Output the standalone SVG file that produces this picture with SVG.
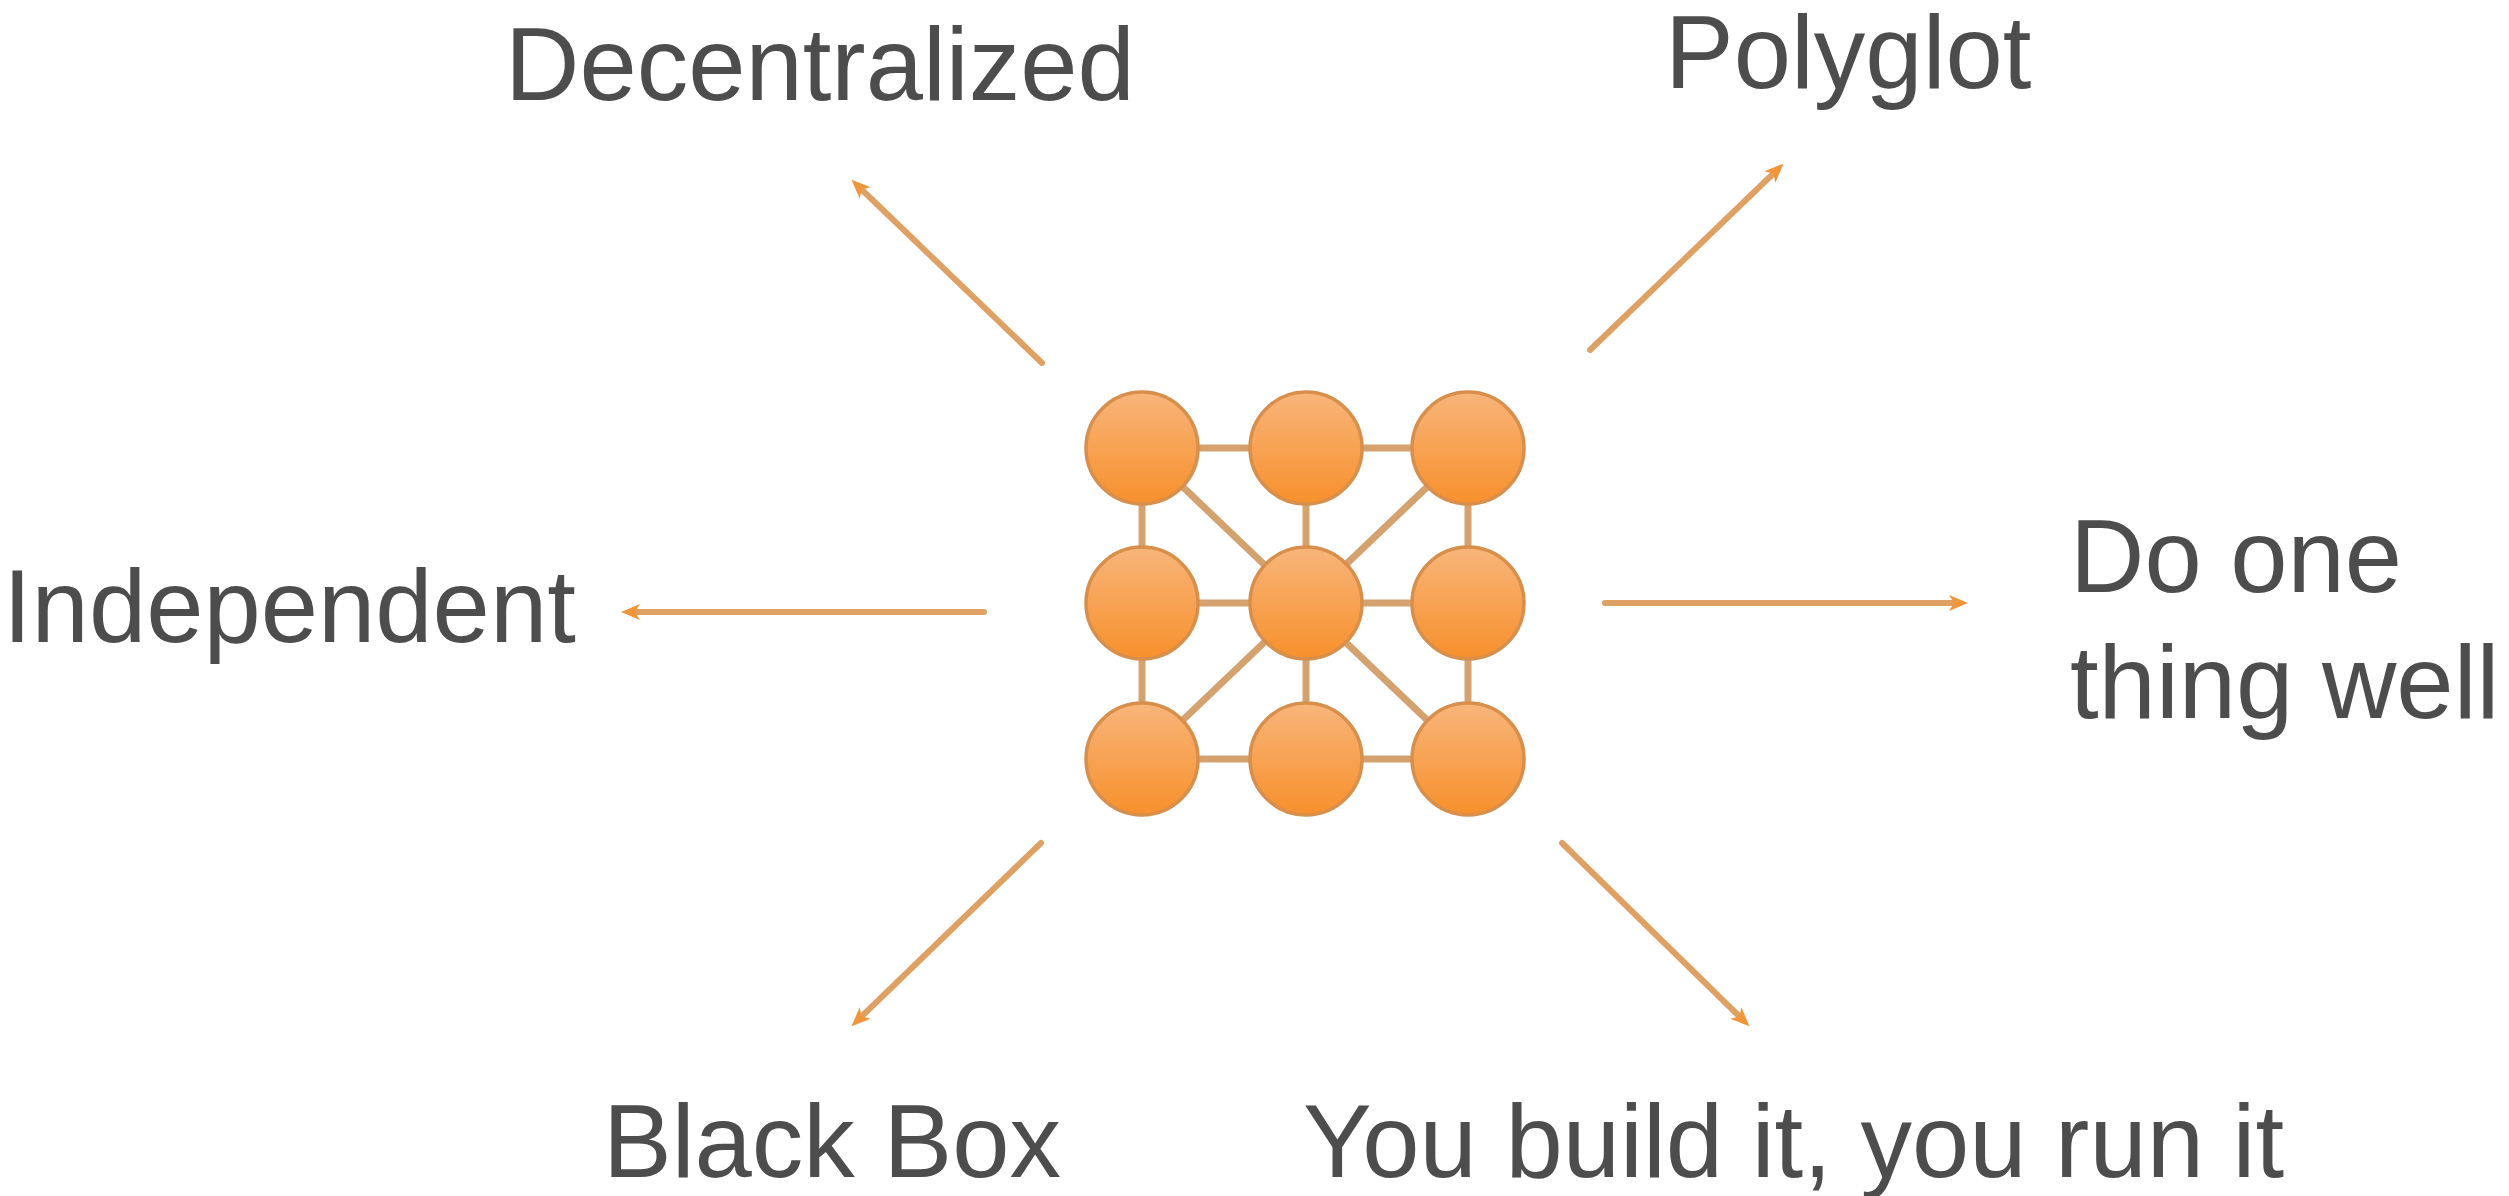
<svg xmlns="http://www.w3.org/2000/svg" width="2509" height="1196" viewBox="0 0 2509 1196">
  <defs>
    <linearGradient id="ball" x1="0" y1="0" x2="0" y2="1">
      <stop offset="0" stop-color="#F8B57A"/>
      <stop offset="1" stop-color="#F7902C"/>
    </linearGradient>
    <marker id="head" viewBox="0 0 24 24" refX="12" refY="12" markerWidth="24" markerHeight="24" markerUnits="userSpaceOnUse" orient="auto">
      <path d="M2,4 L21,12 L2,20 L7,12 Z" fill="#F0953A"/>
    </marker>
  </defs>
  <style>
    .lbl { font-family: "Liberation Sans", Arial, sans-serif; font-size: 103px; fill: #4d4d4d; }
    .arrow { stroke: #DFA063; stroke-width: 6; stroke-linecap: round; fill: none; marker-end: url(#head); }
    .link { stroke: #D4A26F; stroke-width: 7; }
    .ball { fill: url(#ball); stroke: #D98F4C; stroke-width: 3.5; }
  </style>
  <rect width="2509" height="1196" fill="#ffffff"/>

  <g id="connectors">
    <line class="arrow" x1="1042" y1="363" x2="858" y2="186"/>
    <line class="arrow" x1="1590" y1="350" x2="1777" y2="170"/>
    <line class="arrow" x1="984" y1="612" x2="630" y2="612"/>
    <line class="arrow" x1="1605" y1="603" x2="1959" y2="603"/>
    <line class="arrow" x1="1041" y1="843" x2="858" y2="1020"/>
    <line class="arrow" x1="1562" y1="843" x2="1743" y2="1020"/>
  </g>

  <g id="microservices">
    <g id="grid-links">
      <line class="link" x1="1142" y1="448" x2="1468" y2="448"/>
      <line class="link" x1="1142" y1="603" x2="1468" y2="603"/>
      <line class="link" x1="1142" y1="759" x2="1468" y2="759"/>
      <line class="link" x1="1142" y1="448" x2="1142" y2="759"/>
      <line class="link" x1="1306" y1="448" x2="1306" y2="759"/>
      <line class="link" x1="1468" y1="448" x2="1468" y2="759"/>
      <line class="link" x1="1142" y1="448" x2="1468" y2="759"/>
      <line class="link" x1="1468" y1="448" x2="1142" y2="759"/>
    </g>
    <g id="balls">
      <circle class="ball" cx="1142" cy="448" r="56"/>
      <circle class="ball" cx="1306" cy="448" r="56"/>
      <circle class="ball" cx="1468" cy="448" r="56"/>
      <circle class="ball" cx="1142" cy="603" r="56"/>
      <circle class="ball" cx="1306" cy="603" r="56"/>
      <circle class="ball" cx="1468" cy="603" r="56"/>
      <circle class="ball" cx="1142" cy="759" r="56"/>
      <circle class="ball" cx="1306" cy="759" r="56"/>
      <circle class="ball" cx="1468" cy="759" r="56"/>
    </g>
  </g>

  <g id="decentralized"><text class="lbl" x="505" y="100">Decentralized</text></g>
  <g id="polyglot"><text class="lbl" x="1665" y="88">Polyglot</text></g>
  <g id="independent"><text class="lbl" x="3" y="642">Independent</text></g>
  <g id="do-one-thing-well">
    <text class="lbl" x="2070" y="592">Do one</text>
    <text class="lbl" x="2070" y="718">thing well</text>
  </g>
  <g id="black-box"><text class="lbl" x="603" y="1177">Black Box</text></g>
  <g id="you-build-it"><text class="lbl" x="1303" y="1177">You build it, you run it</text></g>
</svg>
